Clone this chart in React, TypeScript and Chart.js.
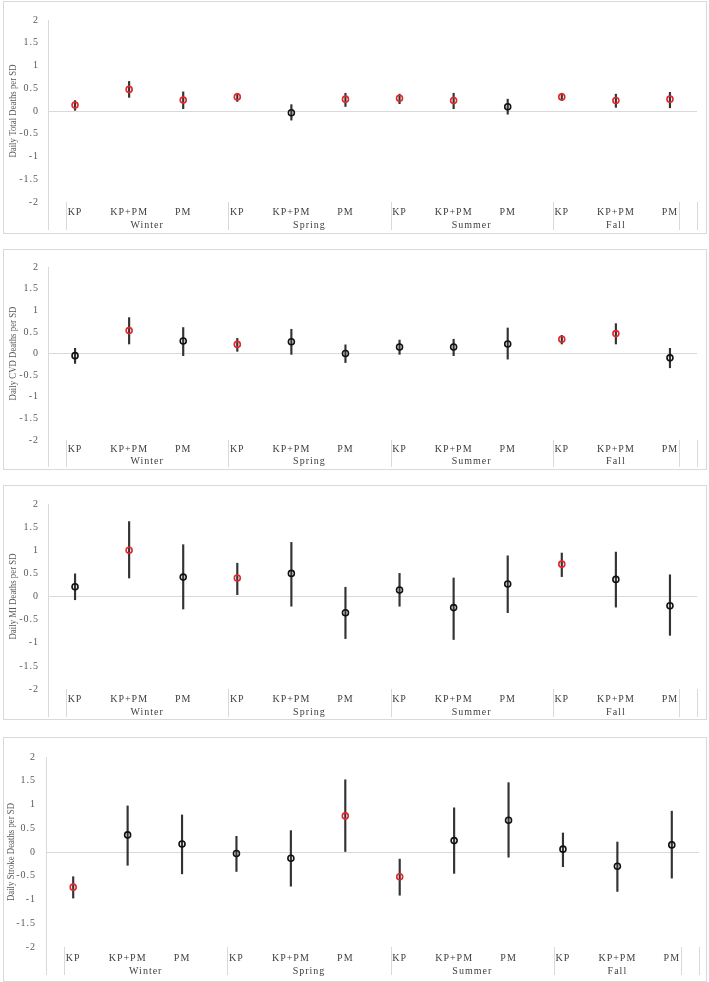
import React, { useEffect, useRef } from 'react';
import { Chart, registerables } from 'chart.js';

Chart.register(...registerables);

// ---------- data ----------
const categories = ['KP', 'KP+PM', 'PM', 'KP', 'KP+PM', 'PM', 'KP', 'KP+PM', 'PM', 'KP', 'KP+PM', 'PM'];
const seasons = ['Winter', 'Spring', 'Summer', 'Fall'];
const yMin = -2;
const yMax = 2;
const yStep = 0.5;

const totalTitle = 'Daily Total Deaths per SD';
const totalEst = [0.13, 0.475, 0.24, 0.31, -0.04, 0.26, 0.28, 0.23, 0.095, 0.31, 0.23, 0.26];
const totalLo = [0.015, 0.3, 0.05, 0.21, -0.2, 0.1, 0.16, 0.05, -0.07, 0.23, 0.08, 0.07];
const totalHi = [0.23, 0.65, 0.42, 0.39, 0.14, 0.39, 0.37, 0.39, 0.26, 0.39, 0.37, 0.41];
const totalSig = [1, 1, 1, 1, 0, 1, 1, 1, 0, 1, 1, 1];

const cvdTitle = 'Daily CVD Deaths per SD';
const cvdEst = [-0.05, 0.53, 0.29, 0.21, 0.27, 0.0, 0.15, 0.15, 0.22, 0.33, 0.46, -0.1];
const cvdLo = [-0.23, 0.22, -0.05, 0.05, -0.02, -0.21, -0.02, -0.05, -0.13, 0.22, 0.22, -0.33];
const cvdHi = [0.12, 0.83, 0.6, 0.35, 0.56, 0.2, 0.31, 0.33, 0.59, 0.42, 0.69, 0.12];
const cvdSig = [0, 1, 0, 1, 0, 0, 0, 0, 0, 1, 1, 0];

const miTitle = 'Daily MI Deaths per SD';
const miEst = [0.21, 1.0, 0.42, 0.4, 0.5, -0.35, 0.14, -0.24, 0.27, 0.7, 0.37, -0.2];
const miLo = [-0.07, 0.4, -0.27, 0.04, -0.21, -0.91, -0.21, -0.93, -0.35, 0.43, -0.23, -0.84];
const miHi = [0.49, 1.62, 1.12, 0.72, 1.17, 0.2, 0.5, 0.4, 0.88, 0.94, 0.96, 0.47];
const miSig = [0, 1, 0, 1, 0, 0, 0, 0, 0, 1, 0, 0];

const strokeTitle = 'Daily Stroke Deaths per SD';
const strokeEst = [-0.74, 0.36, 0.17, -0.03, -0.13, 0.76, -0.52, 0.24, 0.67, 0.06, -0.3, 0.15];
const strokeLo = [-0.97, -0.28, -0.46, -0.41, -0.72, 0.0, -0.91, -0.45, -0.11, -0.31, -0.83, -0.55];
const strokeHi = [-0.52, 0.97, 0.78, 0.33, 0.45, 1.52, -0.15, 0.93, 1.46, 0.4, 0.21, 0.86];
const strokeSig = [1, 0, 0, 0, 0, 1, 1, 0, 0, 0, 0, 0];

// ---------- styling / layout ----------
const FONT = "'Liberation Serif', 'Times New Roman', serif";
const RED = '#e3262b';
const BLACK = '#111111';
const BAR = '#333333';
const LIGHT = '#d9d9d9';
const TICK = '#595959';
const LABEL = '#404040';

type Layout = {
  top: number;
  height: number;
  left: number;
  right: number;
  plotTop: number;
  plotBottom: number;
  titleX: number;
  catDy: number;
  seasonDy: number;
  sepDy: number;
  tickPad: number;
};

const BOX_LEFT = 3;
const BOX_WIDTH = 704;

const layouts: Layout[] = [
  { top: 1, height: 233, left: 45, right: 694, plotTop: 19, plotBottom: 201, titleX: 10, catDy: 10, seasonDy: 23, sepDy: 28, tickPad: 9 },
  { top: 249, height: 221, left: 45, right: 694, plotTop: 18, plotBottom: 191, titleX: 10, catDy: 9, seasonDy: 21, sepDy: 27, tickPad: 9 },
  { top: 485, height: 235, left: 45, right: 694, plotTop: 19, plotBottom: 204, titleX: 10, catDy: 10, seasonDy: 23, sepDy: 28, tickPad: 9 },
  { top: 737, height: 245, left: 43, right: 696, plotTop: 20, plotBottom: 210, titleX: 8, catDy: 11, seasonDy: 24, sepDy: 28, tickPad: 10 },
];

type PanelData = { title: string; est: number[]; lo: number[]; hi: number[]; sig: number[] };

const panels: PanelData[] = [
  { title: totalTitle, est: totalEst, lo: totalLo, hi: totalHi, sig: totalSig },
  { title: cvdTitle, est: cvdEst, lo: cvdLo, hi: cvdHi, sig: cvdSig },
  { title: miTitle, est: miEst, lo: miLo, hi: miHi, sig: miSig },
  { title: strokeTitle, est: strokeEst, lo: strokeLo, hi: strokeHi, sig: strokeSig },
];

function Panel({ data, layout }: { data: PanelData; layout: Layout }) {
  const ref = useRef<HTMLCanvasElement>(null);

  useEffect(() => {
    const canvas = ref.current;
    if (!canvas) return;
    const W = BOX_WIDTH;
    const H = layout.height;

    const decor = {
      id: 'decor',
      beforeDraw(chart: any) {
        (chart.ctx as any).letterSpacing = '1px';
      },
      beforeDatasetsDraw(chart: any) {
        (chart.ctx as any).letterSpacing = '0px';
      },
      afterDraw(chart: any) {
        const ctx = chart.ctx as any;
        const xs = chart.scales.x;
        const area = chart.chartArea;
        const n = categories.length;
        const catW = (xs.right - xs.left) / n;
        ctx.save();
        ctx.letterSpacing = '0px';
        ctx.strokeStyle = LIGHT;
        ctx.lineWidth = 1;
        const yTop = area.bottom;
        const yBot = area.bottom + layout.sepDy;
        // y-axis line extension into label area
        ctx.beginPath();
        ctx.moveTo(Math.round(area.left) + 0.5, yTop);
        ctx.lineTo(Math.round(area.left) + 0.5, yBot);
        ctx.stroke();
        // group separators
        const seps: number[] = [];
        for (let k = 0; k < seasons.length; k++) {
          seps.push(xs.getPixelForValue(3 * k) - catW / 2 + catW / 3);
        }
        seps.push(xs.right - catW / 3);
        seps.push(xs.right);
        seps.forEach((sx) => {
          ctx.beginPath();
          ctx.moveTo(Math.round(sx) + 0.5, yTop);
          ctx.lineTo(Math.round(sx) + 0.5, yBot);
          ctx.stroke();
        });
        // season labels
        ctx.letterSpacing = '1px';
        ctx.fillStyle = LABEL;
        ctx.font = `10px ${FONT}`;
        ctx.textAlign = 'center';
        ctx.textBaseline = 'middle';
        seasons.forEach((s, k) => {
          const cx = (seps[k] + seps[k + 1]) / 2;
          ctx.fillText(s, cx, area.bottom + layout.seasonDy);
        });
        // y title
        ctx.letterSpacing = '0px';
        ctx.translate(layout.titleX, (area.top + area.bottom) / 2);
        ctx.rotate(-Math.PI / 2);
        ctx.scale(0.8, 1);
        ctx.font = `11px ${FONT}`;
        ctx.fillStyle = TICK;
        ctx.fillText(data.title, 0, 0);
        ctx.restore();
      },
    };

    const chart = new Chart(canvas, {
      type: 'bar',
      data: {
        labels: categories,
        datasets: [
          {
            type: 'line',
            data: data.est,
            showLine: false,
            pointRadius: 3,
            pointHoverRadius: 3,
            pointBorderWidth: 1.6,
            pointBorderColor: data.sig.map((s) => (s ? RED : BLACK)),
            pointBackgroundColor: 'rgba(0,0,0,0)',
            borderColor: BLACK,
            order: 0,
          } as any,
          {
            type: 'bar',
            data: data.lo.map((l, i) => [l, data.hi[i]]),
            backgroundColor: BAR,
            barThickness: 1.5,
            borderWidth: 0,
            order: 1,
          } as any,
        ],
      },
      options: {
        animation: false,
        responsive: false,
        devicePixelRatio: 1,
        events: [],
        layout: { padding: { left: 0, top: layout.plotTop, right: W - layout.right, bottom: 0 } },
        plugins: { legend: { display: false }, tooltip: { enabled: false } },
        scales: {
          x: {
            type: 'category',
            offset: true,
            grid: { display: false, drawTicks: false },
            border: { display: false },
            ticks: {
              color: LABEL,
              font: { family: FONT, size: 10 },
              padding: layout.catDy - 6,
              maxRotation: 0,
              autoSkip: false,
            },
            afterFit: (s: any) => {
              s.height = H - layout.plotBottom;
            },
          },
          y: {
            min: yMin,
            max: yMax,
            ticks: {
              stepSize: yStep,
              color: TICK,
              font: { family: FONT, size: 10 },
              padding: layout.tickPad,
              callback: (v: any) => String(Math.round(Number(v) * 10) / 10),
            },
            grid: {
              drawTicks: false,
              color: (c: any) => (c.tick && c.tick.value === 0 ? LIGHT : 'rgba(0,0,0,0)'),
              lineWidth: 1,
            },
            border: { display: true, color: LIGHT, width: 1 },
            afterFit: (s: any) => {
              s.width = layout.left;
            },
          },
        },
      } as any,
      plugins: [decor],
    });
    return () => chart.destroy();
  }, []);

  return (
    <>
      <canvas
        ref={ref}
        width={BOX_WIDTH}
        height={layout.height}
        style={{ position: 'absolute', left: BOX_LEFT, top: layout.top, width: BOX_WIDTH, height: layout.height }}
      />
      <div
        style={{
          position: 'absolute',
          left: BOX_LEFT,
          top: layout.top,
          width: BOX_WIDTH,
          height: layout.height,
          border: `1px solid ${LIGHT}`,
          boxSizing: 'border-box',
          pointerEvents: 'none',
        }}
      />
    </>
  );
}

export default function App() {
  return (
    <div style={{ position: 'absolute', left: 0, top: 0, width: 709, height: 982, background: '#ffffff' }}>
      {panels.map((p, i) => (
        <Panel key={i} data={p} layout={layouts[i]} />
      ))}
    </div>
  );
}
